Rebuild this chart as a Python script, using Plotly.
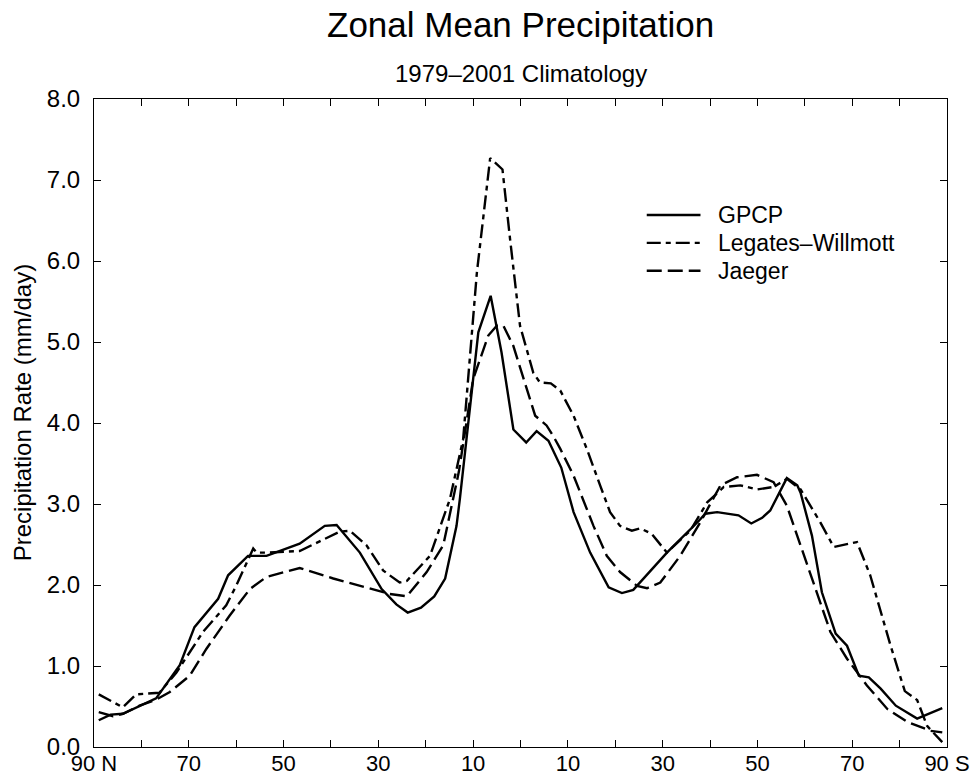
import plotly.graph_objects as go

# Zonal-mean precipitation (mm/day) vs latitude (positive = N, negative = S)
gpcp_lat = [89.0, 86.5, 83.9, 80.4, 76.9, 71.9, 68.8, 63.8, 61.7, 57.5, 53.6, 46.6, 41.3, 38.8,
            33.9, 29.3, 26.2, 23.8, 21.0, 18.2, 15.9, 13.5, 12.8, 8.9, 6.3, 4.0, 1.5, -1.2, -3.4,
            -5.9, -8.6, -11.2, -14.7, -18.6, -21.4, -23.8, -30.9, -37.6, -39.0, -41.5, -46.0,
            -48.7, -51.0, -52.7, -56.2, -58.4, -59.1, -61.5, -63.6, -66.5, -68.9, -71.4, -73.5,
            -76.0, -79.2, -83.7, -89.0]
gpcp_val = [0.33, 0.40, 0.41, 0.51, 0.60, 1.01, 1.48, 1.83, 2.12, 2.36, 2.36, 2.51, 2.73, 2.74,
            2.40, 1.95, 1.76, 1.66, 1.72, 1.86, 2.08, 2.73, 3.06, 5.12, 5.57, 4.87, 3.92, 3.76, 3.90,
            3.78, 3.45, 2.90, 2.40, 1.97, 1.90, 1.94, 2.40, 2.79, 2.88, 2.90, 2.86,
            2.76, 2.83, 2.92, 3.32, 3.23, 3.14, 2.61, 1.91, 1.40, 1.25, 0.88, 0.86,
            0.72, 0.51, 0.35, 0.48]

lw_lat = [89.0, 83.9, 81.1, 76.2, 72.6, 67.0, 62.1, 60.0, 56.4, 55.7, 53.6, 46.6, 38.1, 36.0,
          32.5, 29.0, 25.5, 24.0, 19.1, 14.9, 12.1, 9.2, 6.4, 3.8, 2.2, 0.1, -2.7, -4.1, -6.4,
          -8.4, -11.2, -14.0, -16.8, -18.9, -21.0, -23.5, -25.3, -27.7, -30.9, -35.8, -39.4,
          -42.9, -46.4, -49.9, -53.4, -56.2, -59.1, -63.3, -66.1, -71.0, -73.8, -78.1, -81.1,
          -83.7, -85.8, -89.0]
lw_val = [0.65, 0.49, 0.65, 0.67, 0.92, 1.42, 1.75, 1.99, 2.45, 2.40, 2.40, 2.42, 2.66, 2.67,
          2.49, 2.18, 2.03, 2.05, 2.36, 3.06, 3.80, 5.86, 7.27, 7.13, 6.27, 5.20, 4.62, 4.50, 4.49,
          4.40, 4.09, 3.68, 3.23, 2.90, 2.73, 2.67, 2.70, 2.63, 2.40, 2.67, 3.02,
          3.21, 3.23, 3.18, 3.21, 3.31, 3.18, 2.77, 2.47, 2.53, 2.12, 1.25, 0.69,
          0.58, 0.26, 0.06]

jaeger_lat = [89.0, 86.0, 83.9, 80.4, 77.0, 74.0, 69.8, 66.3, 61.4, 57.1, 53.6, 46.6, 39.5, 32.5,
              27.6, 24.0, 19.8, 16.3, 13.0, 10.0, 6.8, 5.0, 3.6, 1.5, -1.3, -3.1, -5.5, -6.9,
              -8.4, -11.2, -15.4, -18.2, -21.0, -24.6, -26.7, -29.5, -33.7, -37.9, -42.2, -45.7,
              -49.9, -53.4, -56.2, -59.1, -62.6, -65.4, -68.9, -73.1, -77.4, -81.6, -86.5, -89.0]
jaeger_val = [0.43, 0.38, 0.41, 0.51, 0.58, 0.68, 0.88, 1.21, 1.62, 1.95, 2.10, 2.21, 2.08, 1.97,
              1.89, 1.86, 2.16, 2.49, 3.40, 4.54, 5.08, 5.20, 5.20, 4.95, 4.42, 4.09, 3.97, 3.84,
              3.68, 3.35, 2.73, 2.36, 2.16, 1.99, 1.96, 2.03, 2.36, 2.77, 3.23, 3.33,
              3.36, 3.27, 2.98, 2.49, 1.91, 1.42, 1.09, 0.76, 0.47, 0.31, 0.20, 0.18]

series_names = ["GPCP", "Legates\u2013Willmott", "Jaeger"]
series_dash = ["solid", "14px,5px,5px,5px", "15px,6px"]

x_tickvals = list(range(90, -91, -10))
x_ticktext = ["90 N", "", "70", "", "50", "", "30", "", "10", "", "10", "", "30", "", "50", "", "70", "", "90 S"]
y_tickvals = [0, 1, 2, 3, 4, 5, 6, 7, 8]
y_ticktext = ["0.0", "1.0", "2.0", "3.0", "4.0", "5.0", "6.0", "7.0", "8.0"]

FONT = "Liberation Sans, Arial, Helvetica, sans-serif"
LINE_W = 2.4

fig = go.Figure()
data = [(gpcp_lat, gpcp_val), (lw_lat, lw_val), (jaeger_lat, jaeger_val)]
for (lat, val), name, dash in zip(data, series_names, series_dash):
    fig.add_trace(go.Scatter(x=lat, y=val, mode="lines", name=name,
                             line=dict(color="black", width=LINE_W, dash=dash)))

# Legend drawn as sample lines plus labels inside the plot area
leg_x0, leg_x1, leg_y0, leg_dy = 0.648, 0.711, 0.821, 0.043
shapes, annotations = [], []
for i, (name, dash) in enumerate(zip(series_names, series_dash)):
    yy = leg_y0 - i * leg_dy
    shapes.append(dict(type="line", xref="paper", yref="paper", x0=leg_x0, x1=leg_x1, y0=yy, y1=yy,
                       line=dict(color="black", width=LINE_W, dash=dash)))
    annotations.append(dict(xref="paper", yref="paper", x=leg_x1 + 0.018, y=yy, text=name,
                            showarrow=False, xanchor="left", yanchor="middle",
                            font=dict(family=FONT, size=23, color="black")))

annotations += [
    dict(xref="paper", yref="paper", x=0.5, y=1, yshift=75, text="Zonal Mean Precipitation",
         showarrow=False, xanchor="center", yanchor="middle",
         font=dict(family=FONT, size=35, color="black")),
    dict(xref="paper", yref="paper", x=0.5, y=1, yshift=26, text="1979\u20132001 Climatology",
         showarrow=False, xanchor="center", yanchor="middle",
         font=dict(family=FONT, size=24, color="black")),
    dict(xref="paper", yref="paper", x=0, xshift=-72, y=0.515, text="Precipitation Rate (mm/day)",
         textangle=-90, showarrow=False, xanchor="center", yanchor="middle",
         font=dict(family=FONT, size=24, color="black")),
]

fig.update_layout(
    width=972, height=780,
    margin=dict(l=94, r=25, t=99, b=33),
    paper_bgcolor="white", plot_bgcolor="white",
    showlegend=False,
    font=dict(family=FONT, size=24, color="black"),
    shapes=shapes, annotations=annotations,
)
fig.update_xaxes(range=[90, -90], tickmode="array", tickvals=x_tickvals, ticktext=x_ticktext,
                 ticks="inside", ticklen=7, tickcolor="black", tickwidth=1,
                 showline=True, linecolor="black", linewidth=1, mirror="ticks",
                 showgrid=False, zeroline=False, automargin=False,
                 tickfont=dict(family=FONT, size=22), ticklabelstandoff=-3)
fig.update_yaxes(range=[0, 8], tickmode="array", tickvals=y_tickvals, ticktext=y_ticktext,
                 ticks="inside", ticklen=7, tickcolor="black", tickwidth=1,
                 showline=True, linecolor="black", linewidth=1, mirror="ticks",
                 showgrid=False, zeroline=False, automargin=False,
                 tickfont=dict(family=FONT, size=24), ticklabelstandoff=8)

fig.write_html("out.html")
